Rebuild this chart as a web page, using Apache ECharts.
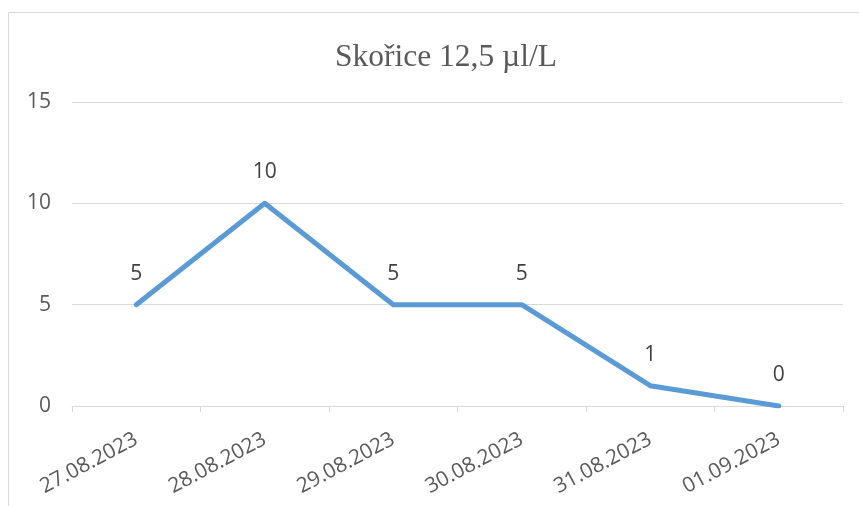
<!DOCTYPE html>
<html>
<head>
<meta charset="utf-8">
<script src="https://cdn.jsdelivr.net/npm/echarts@6/dist/echarts.min.js"></script>
<style>
  html, body { margin: 0; padding: 0; background: #fff; }
  #chart { width: 859px; height: 506px; }
</style>
</head>
<body>
<div id="chart"></div>
<script>
// data
const titleText = 'Skořice 12,5 µl/L';
const dates = ['27.08.2023', '28.08.2023', '29.08.2023', '30.08.2023', '31.08.2023', '01.09.2023'];
const counts = [5, 10, 5, 5, 1, 0];

const chart = echarts.init(document.getElementById('chart'), null, { renderer: 'canvas' });

chart.setOption({
  animation: false,
  backgroundColor: '#fff',
  // outer chart frame (clipped at right and bottom like the source)
  graphic: [{
    type: 'rect',
    shape: { x: 8.5, y: 12.5, width: 900, height: 600 },
    style: { fill: 'none', stroke: '#d9d9d9', lineWidth: 1 },
    silent: true,
  }],
  title: {
    text: titleText,
    left: 330,
    top: 37,
    textStyle: {
      fontFamily: 'Liberation Serif',
      fontWeight: 'normal',
      fontSize: 31.5,
      color: '#595959',
    },
  },
  grid: { left: 72, right: 16, top: 102, bottom: 100, containLabel: false },
  xAxis: {
    type: 'category',
    data: dates,
    boundaryGap: true,
    axisLine: { lineStyle: { color: '#d9d9d9', width: 1 } },
    axisTick: { show: true, length: 6, lineStyle: { color: '#d9d9d9' } },
    axisLabel: {
      rotate: 28,
      interval: 0,
      margin: 32,
      fontFamily: 'Open Sans',
      fontSize: 21,
      color: '#595959',
    },
  },
  yAxis: {
    type: 'value',
    min: 0,
    max: 15,
    interval: 5,
    axisLine: { show: false },
    axisTick: { show: false },
    splitLine: { lineStyle: { color: '#d9d9d9', width: 1 } },
    axisLabel: {
      margin: 21,
      fontFamily: 'Open Sans',
      fontSize: 21,
      color: '#595959',
    },
  },
  series: [{
    type: 'line',
    data: counts,
    showSymbol: true,
    symbol: 'circle',
    symbolSize: 3,
    itemStyle: { color: '#5b9bd5', borderWidth: 0 },
    lineStyle: { color: '#5b9bd5', width: 5, cap: 'round', join: 'round' },
    label: {
      show: true,
      position: 'top',
      distance: 19,
      fontFamily: 'Open Sans',
      fontSize: 21,
      color: '#404040',
    },
  }],
});
</script>
</body>
</html>
